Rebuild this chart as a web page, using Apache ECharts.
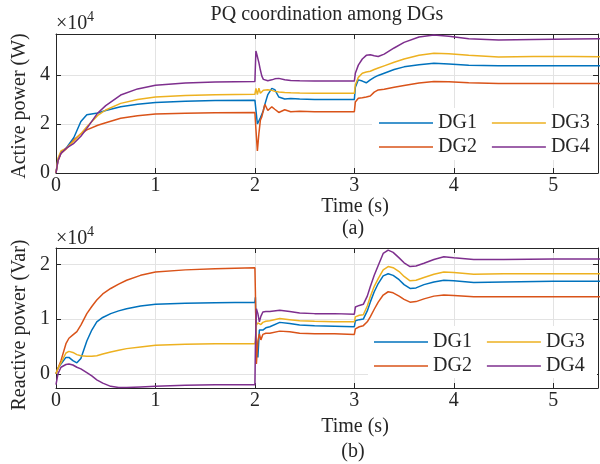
<!DOCTYPE html>
<html>
<head>
<meta charset="utf-8">
<script src="https://cdn.jsdelivr.net/npm/echarts@6/dist/echarts.min.js"></script>
<style>
  html, body { margin: 0; padding: 0; background: #fff; }
  #chart { width: 600px; height: 464px; }
</style>
</head>
<body>
<div id="chart"></div>
<script>
// colours are the matlab defaults
var COLORS = ['#0072BD', '#D95319', '#EDB120', '#7E2F8E'];
var NAMES = ['DG1', 'DG2', 'DG3', 'DG4'];
var FONT = 'Liberation Serif, Times New Roman, serif';
var TXT = '#262626';

var xTicks = [0, 1, 2, 3, 4, 5];
var yTicksP = [0, 2, 4];
var yTicksQ = [0, 1, 2];

// (a) active power, x10^4 W
var tP = [0, 0.02, 0.05, 0.1, 0.18, 0.25, 0.31, 0.42, 0.5, 0.65, 0.82, 1.0, 1.3, 1.6,
  2.0, 2.01, 2.025, 2.04, 2.055, 2.07, 2.085, 2.1, 2.13, 2.17, 2.2, 2.24, 2.3, 2.36, 2.45, 2.6,
  3.0, 3.01, 3.04, 3.08, 3.12, 3.16, 3.2, 3.24, 3.3, 3.4, 3.5, 3.65, 3.8, 3.95, 4.15, 4.45, 4.8, 5.2, 5.5];
var dg1P = [0, 0.55, 0.85, 1.0, 1.45, 2.1, 2.38, 2.45, 2.55, 2.7, 2.8, 2.88, 2.93, 2.96,
  2.97, 2.9, 2.0, 1.95, 2.25, 2.4, 2.55, 2.8, 3.2, 3.45, 3.4, 3.1, 3.02, 3.04, 3.02, 3.0,
  3.0, 3.5, 3.8, 3.75, 3.68, 3.8, 3.9, 3.98, 4.07, 4.22, 4.33, 4.42, 4.48, 4.45, 4.4, 4.37, 4.37, 4.37, 4.37];
var dg2P = [0, 0.5, 0.8, 0.97, 1.35, 1.6, 1.76, 1.95, 2.05, 2.23, 2.34, 2.41, 2.44, 2.46,
  2.47, 1.8, 0.9, 1.6, 2.15, 2.3, 2.55, 2.8, 2.55, 2.7, 2.6, 2.47, 2.58, 2.5, 2.52, 2.5,
  2.5, 2.9, 3.05, 3.07, 3.1, 3.14, 3.3, 3.39, 3.42, 3.5, 3.57, 3.67, 3.73, 3.72, 3.68, 3.65, 3.65, 3.65, 3.65];
var dg3P = [0, 0.6, 0.9, 1.0, 1.3, 1.6, 1.89, 2.35, 2.57, 2.84, 3.0, 3.1, 3.16, 3.19,
  3.21, 3.45, 3.2, 3.46, 3.25, 3.3, 3.38, 3.4, 3.4, 3.37, 3.33, 3.3, 3.28, 3.27, 3.26, 3.25,
  3.25, 3.6, 3.9, 4.07, 4.12, 4.15, 4.22, 4.28, 4.37, 4.52, 4.65, 4.8, 4.88, 4.86, 4.8, 4.73, 4.75, 4.75, 4.74];
var dg4P = [0, 0.5, 0.8, 1.0, 1.21, 1.5, 1.82, 2.45, 2.75, 3.18, 3.43, 3.58, 3.67, 3.71,
  3.73, 4.98, 4.75, 4.5, 4.2, 3.95, 3.82, 3.76, 3.76, 3.8, 3.84, 3.86, 3.8, 3.77, 3.76, 3.75,
  3.75, 4.07, 4.4, 4.65, 4.8, 4.82, 4.78, 4.75, 4.85, 5.1, 5.33, 5.55, 5.63, 5.58, 5.48, 5.43, 5.45, 5.47, 5.48];

// (b) reactive power, x10^4 Var
var tQ = [0, 0.02, 0.05, 0.1, 0.13, 0.17, 0.21, 0.25, 0.31, 0.36, 0.41, 0.47, 0.55, 0.63, 0.71, 0.85, 1.0, 1.3, 1.6,
  2.0, 2.005, 2.015, 2.03, 2.045, 2.06, 2.08, 2.11, 2.15, 2.25, 2.35, 2.45, 2.6, 2.8,
  3.0, 3.01, 3.05, 3.09, 3.13, 3.16, 3.2, 3.24, 3.29, 3.34, 3.39, 3.45, 3.5, 3.56, 3.62, 3.7, 3.8, 3.9, 4.0, 4.2, 4.5, 5.0, 5.5];
var dg1Q = [0, 0.1, 0.18, 0.3, 0.3, 0.24, 0.2, 0.28, 0.6, 0.8, 0.95, 1.03, 1.1, 1.15, 1.19, 1.24, 1.27, 1.29, 1.3,
  1.31, 1.4, 0.5, 0.3, 0.8, 0.78, 0.8, 0.84, 0.86, 0.94, 0.92, 0.89, 0.88, 0.87,
  0.86, 0.97, 0.99, 1.0, 1.15, 1.31, 1.5, 1.65, 1.79, 1.83, 1.8, 1.72, 1.63, 1.56, 1.57, 1.63, 1.68, 1.71, 1.7, 1.67, 1.68, 1.69, 1.69];
var dg2Q = [0, 0.1, 0.24, 0.55, 0.65, 0.71, 0.77, 0.89, 1.1, 1.23, 1.35, 1.46, 1.56, 1.64, 1.71, 1.8, 1.86, 1.9, 1.92,
  1.94, 1.5, 0.18, 0.6, 0.73, 0.62, 0.72, 0.74, 0.74, 0.78, 0.77, 0.74, 0.73, 0.73,
  0.72, 0.82, 0.86, 0.88, 0.95, 1.04, 1.18, 1.31, 1.44, 1.5, 1.48, 1.42, 1.36, 1.31, 1.32, 1.37, 1.42, 1.44, 1.43, 1.41, 1.41, 1.41, 1.41];
var dg3Q = [0, 0.1, 0.2, 0.38, 0.41, 0.39, 0.35, 0.33, 0.32, 0.32, 0.33, 0.36, 0.4, 0.43, 0.46, 0.49, 0.52, 0.54, 0.55,
  0.55, 0.6, 0.89, 0.93, 0.95, 0.9, 0.94, 0.96, 0.97, 1.01, 0.99, 0.97, 0.96, 0.95,
  0.95, 1.04, 1.07, 1.08, 1.24, 1.41, 1.6, 1.74, 1.9, 1.96, 1.94, 1.87, 1.78, 1.7, 1.71, 1.76, 1.82, 1.86, 1.85, 1.82, 1.83, 1.83, 1.83];
var dg4Q = [-0.2, 0.0, 0.12, 0.17, 0.18, 0.16, 0.12, 0.09, 0.02, -0.04, -0.11, -0.17, -0.23, -0.25, -0.25, -0.24, -0.23, -0.21, -0.2,
  -0.2, 0.5, 1.19, 1.1, 0.95, 1.05, 1.13, 1.14, 1.14, 1.16, 1.14, 1.11, 1.1, 1.1,
  1.09, 1.22, 1.25, 1.27, 1.42, 1.59, 1.8, 1.98, 2.2, 2.26, 2.22, 2.12, 2.03, 1.96, 1.97, 2.02, 2.09, 2.14, 2.12, 2.09, 2.09, 2.1, 2.1];

var chart = echarts.init(document.getElementById('chart'), null, { renderer: 'canvas' });

function pairs(t, v) {
  return t.map(function (x, i) { return [x, v[i]]; });
}

function mainX(gridIndex) {
  return {
    type: 'value', gridIndex: gridIndex, min: 0, max: 5.45, position: 'bottom',
    axisLine: { show: true, onZero: false, lineStyle: { color: TXT, width: 1 } },
    axisTick: { show: true, inside: true, length: 5, customValues: xTicks, lineStyle: { color: TXT } },
    axisLabel: { customValues: xTicks, margin: 3, color: TXT, fontFamily: FONT, fontSize: 20 },
    splitLine: { show: true, lineStyle: { color: '#e3e3e3', width: 1 } }
  };
}
function boxX(gridIndex) {
  return {
    type: 'value', gridIndex: gridIndex, min: 0, max: 5.45, position: 'top',
    axisLine: { show: true, onZero: false, lineStyle: { color: TXT, width: 1 } },
    axisTick: { show: true, inside: true, length: 5, customValues: xTicks, lineStyle: { color: TXT } },
    axisLabel: { show: false }, splitLine: { show: false }
  };
}
function mainY(gridIndex, min, max, ticks) {
  return {
    type: 'value', gridIndex: gridIndex, min: min, max: max, position: 'left',
    axisLine: { show: true, onZero: false, lineStyle: { color: TXT, width: 1 } },
    axisTick: { show: true, inside: true, length: 5, customValues: ticks, lineStyle: { color: TXT } },
    axisLabel: { customValues: ticks, margin: 6, color: TXT, fontFamily: FONT, fontSize: 20 },
    splitLine: { show: true, lineStyle: { color: '#e3e3e3', width: 1 } }
  };
}
function boxY(gridIndex, min, max, ticks) {
  return {
    type: 'value', gridIndex: gridIndex, min: min, max: max, position: 'right',
    axisLine: { show: true, onZero: false, lineStyle: { color: TXT, width: 1 } },
    axisTick: { show: true, inside: true, length: 5, customValues: ticks, lineStyle: { color: TXT } },
    axisLabel: { show: false }, splitLine: { show: false }
  };
}

function lineSeries(name, color, t, v, xi, yi) {
  return {
    name: name, type: 'line', xAxisIndex: xi, yAxisIndex: yi,
    data: pairs(t, v), symbol: 'none', animation: false,
    lineStyle: { color: color, width: 1.5 }, itemStyle: { color: color }
  };
}

// legend sample is a plain line, like matlab
function legendRow(names, left, top) {
  return {
    data: names, left: left, top: top, orient: 'horizontal', padding: 0,
    icon: 'rect', itemWidth: 54, itemHeight: 1.5, itemGap: 15,
    textStyle: { color: TXT, fontFamily: FONT, fontSize: 20 }
  };
}

function label(text, x, y, size, rot) {
  return {
    type: 'text', x: x, y: y, rotation: rot || 0, z: 10,
    style: { text: text, fill: TXT, font: size + 'px ' + FONT, align: 'center', verticalAlign: 'middle' }
  };
}

var option = {
  backgroundColor: '#fff',
  animation: false,
  grid: [
    { left: 56, right: 2, top: 34, height: 139 },
    { left: 56, right: 2, top: 248, height: 140 }
  ],
  xAxis: [mainX(0), boxX(0), mainX(1), boxX(1)],
  yAxis: [mainY(0, 0, 5.67, yTicksP), boxY(0, 0, 5.67, yTicksP),
          mainY(1, -0.26, 2.3, yTicksQ), boxY(1, -0.26, 2.3, yTicksQ)],
  legend: [
    legendRow(['DG1', 'DG3'], 379, 113),
    legendRow(['DG2', 'DG4'], 379, 137),
    legendRow(['DG1', 'DG3'], 374, 332),
    legendRow(['DG2', 'DG4'], 374, 356)
  ],
  graphic: [
    { type: 'rect', z: 3, shape: { x: 372, y: 108, width: 225, height: 52 }, style: { fill: '#fff' } },
    { type: 'rect', z: 3, shape: { x: 368, y: 326, width: 229, height: 52 }, style: { fill: '#fff' } },
    label('PQ coordination among DGs', 327, 15, 20),
    { type: 'text', x: 56, y: 24, z: 10, style: { text: '\u00d710', fill: TXT, font: '20px ' + FONT, align: 'left', verticalAlign: 'middle' } },
    { type: 'text', x: 87, y: 17, z: 10, style: { text: '4', fill: TXT, font: '14px ' + FONT, align: 'left', verticalAlign: 'middle' } },
    label('Active power (W)', 20, 106, 20, Math.PI / 2),
    label('Time (s)', 355, 207, 20),
    label('(a)', 353, 229, 20),
    { type: 'text', x: 56, y: 239, z: 10, style: { text: '\u00d710', fill: TXT, font: '20px ' + FONT, align: 'left', verticalAlign: 'middle' } },
    { type: 'text', x: 87, y: 232, z: 10, style: { text: '4', fill: TXT, font: '14px ' + FONT, align: 'left', verticalAlign: 'middle' } },
    label('Reactive power (Var)', 20, 325, 20, Math.PI / 2),
    label('Time (s)', 355, 427, 20),
    label('(b)', 353, 452, 20)
  ],
  series: [
    lineSeries(NAMES[0], COLORS[0], tP, dg1P, 0, 0),
    lineSeries(NAMES[1], COLORS[1], tP, dg2P, 0, 0),
    lineSeries(NAMES[2], COLORS[2], tP, dg3P, 0, 0),
    lineSeries(NAMES[3], COLORS[3], tP, dg4P, 0, 0),
    lineSeries(NAMES[0], COLORS[0], tQ, dg1Q, 2, 2),
    lineSeries(NAMES[1], COLORS[1], tQ, dg2Q, 2, 2),
    lineSeries(NAMES[2], COLORS[2], tQ, dg3Q, 2, 2),
    lineSeries(NAMES[3], COLORS[3], tQ, dg4Q, 2, 2)
  ]
};

chart.setOption(option);
</script>
</body>
</html>
